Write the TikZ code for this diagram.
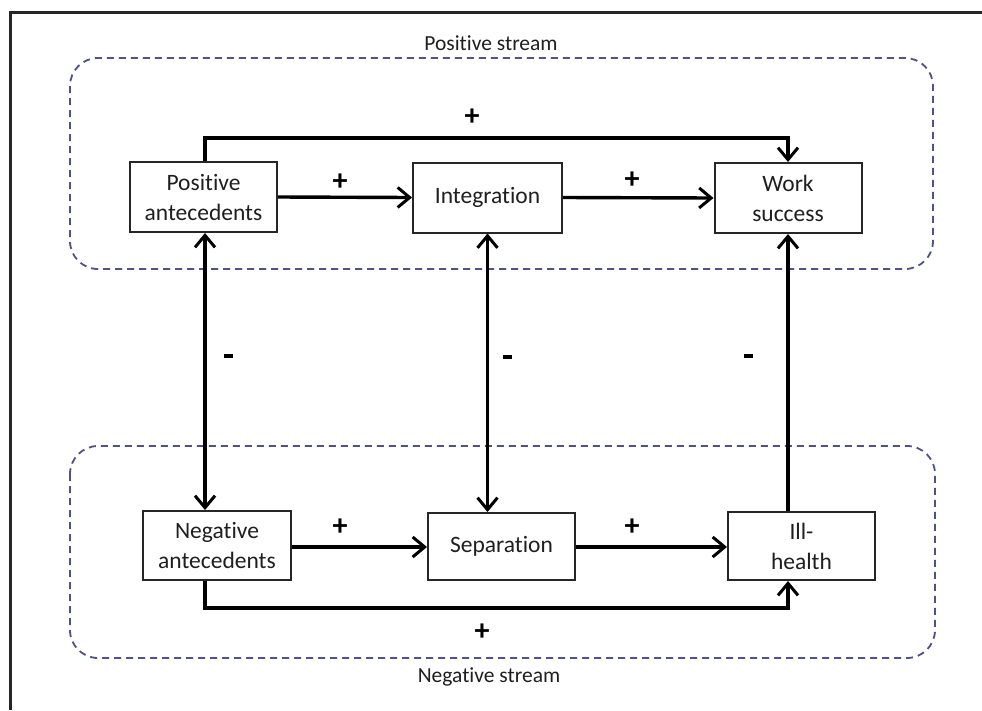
\documentclass[tikz,border=0pt]{standalone}
\usepackage{fontspec}
\setmainfont{Carlito}[Ligatures=NoCommon]
\usetikzlibrary{arrows.meta}
\definecolor{dashblue}{RGB}{78,82,135}
\tikzset{
  box/.style={draw=black!85, line width=2pt, fill=white, align=center, inner sep=0pt,
    font=\fontsize{23.5}{30}\selectfont, text=black!88},
  conn/.style={line width=3.4pt, -{Straight Barb[length=12pt,width=20pt,line width=3pt]}},
  biconn/.style={line width=3.4pt, {Straight Barb[length=12pt,width=20pt,line width=3pt]}-{Straight Barb[length=12pt,width=20pt,line width=3pt]}},
  sign/.style={font=\fontsize{30}{30}\selectfont\bfseries, inner sep=0pt},
  minus/.style={fill=black, minimum width=9pt, minimum height=3.5pt, inner sep=0pt},
  stream/.style={draw=dashblue, line width=1.8pt, dash pattern=on 7pt off 5pt, rounded corners=28pt},
  streamlabel/.style={font=\fontsize{21.5}{24}\selectfont, text=black!88, inner sep=0pt},
  frameline/.style={draw=black!85, line width=3pt}
}
\begin{document}
\begin{tikzpicture}[x=1pt,y=-1pt]
\useasboundingbox (0,0) rectangle (982,710);
\fill[white] (0,0) rectangle (982,710);
% frame
\coordinate (fbl) at (10.5,710);
\coordinate (ftl) at (10.5,12);
\coordinate (ftr) at (982,12);
\draw[frameline] (fbl) -- (ftl) -- (ftr);
% streams
\draw[stream] (70,58) rectangle (933,269);
\draw[stream] (70,446) rectangle (935,658);
\node[streamlabel] (ps) at (491,43) {Positive stream};
\node[streamlabel] (ns) at (489,677) {Negative stream};
% nodes
\node[box, minimum width=147pt, minimum height=70pt] (pa) at (203.5,197) {Positive\\antecedents};
\node[box, minimum width=149pt, minimum height=70pt] (int) at (487.5,197.5) {Integration};
\node[box, minimum width=147pt, minimum height=70pt] (ws) at (788,198) {Work\\success};
\node[box, minimum width=148pt, minimum height=69pt] (na) at (217,545.5) {Negative\\antecedents};
\node[box, minimum width=147pt, minimum height=67pt] (sep) at (501.5,546.5) {Separation};
\node[box, minimum width=147pt, minimum height=68pt] (ih) at (801.5,546) {Ill-\\health};
% helper coordinates
\coordinate (cx) at (205,0);
\coordinate (topy) at (0,138);
\coordinate (boty) at (0,608);
\coordinate (nay) at (0,547);
% connectors
\draw[conn] (pa.east) -- (int.west);
\draw[conn] (int.east) -- (ws.west);
\draw[conn] (pa.north -| cx) -- (topy -| cx) -- (topy -| ws.north) -- (ws.north);
\draw[biconn] (pa.south -| cx) -- (na.north -| cx);
\draw[biconn] (int.south) -- (sep.north -| int.south);
\draw[conn] (ih.north -| ws.south) -- (ws.south);
\draw[conn] (na.east |- nay) -- (sep.west |- nay);
\draw[conn] (sep.east |- nay) -- (ih.west |- nay);
\draw[conn] (na.south -| cx) -- (boty -| cx) -- (boty -| ws.south) -- (ih.south -| ws.south);
% signs
\node[sign] (s1) at (472,117) {+};
\node[sign] (s2) at (340,182) {+};
\node[sign] (s3) at (632,180) {+};
\node[minus] (s4) at (228,356) {};
\node[minus] (s5) at (507,357) {};
\node[minus] (s6) at (748,356) {};
\node[sign] (s7) at (340,527) {+};
\node[sign] (s8) at (632,527) {+};
\node[sign] (s9) at (482,632) {+};
\end{tikzpicture}
\end{document}
